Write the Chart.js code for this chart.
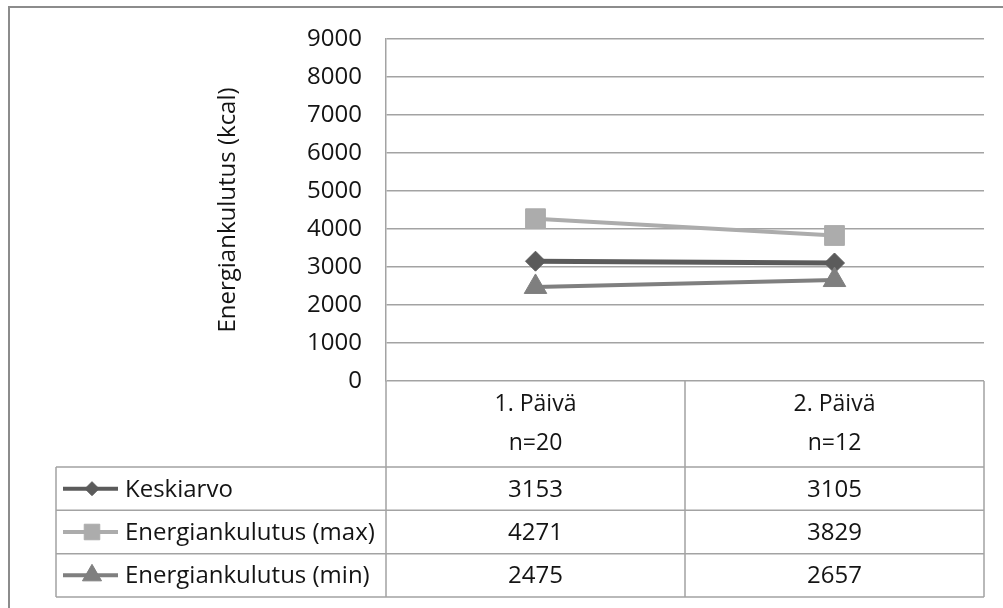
<!DOCTYPE html>
<html>
<head>
<meta charset="utf-8">
<script src="https://cdn.jsdelivr.net/npm/chart.js@4/dist/chart.umd.min.js"></script>
<style>
  html, body { margin: 0; padding: 0; background: #fff; }
  #wrap { width: 1003px; height: 608px; }
</style>
</head>
<body>
<div id="wrap"><canvas id="c" width="1003" height="608"></canvas></div>
<script>
// Energy expenditure per day (kcal)
const days = ['1. Päivä', '2. Päivä'];
const sampleSizes = ['n=20', 'n=12'];
const seriesNames = ['Keskiarvo', 'Energiankulutus (max)', 'Energiankulutus (min)'];
const meanValues = [3153, 3105];
const maxValues = [4271, 3829];
const minValues = [2475, 2657];
const yTicks = [0, 1000, 2000, 3000, 4000, 5000, 6000, 7000, 8000, 9000];

const FONT = "'Open Sans', 'DejaVu Sans', sans-serif";
const TEXT = '#141414';
const RULE = '#a3a3a3';

const styles = [
  { color: '#5b5b5b', point: 'rectRot', radius: 10, width: 5, keyRadius: 7, order: 3 },
  { color: '#acacac', point: 'rect', radius: 14, width: 4, keyRadius: 11, order: 2 },
  { color: '#7f7f7f', point: 'triangle', radius: 13, width: 4, keyRadius: 11, order: 1 }
];
const seriesValues = [meanValues, maxValues, minValues];

const datasets = seriesNames.map((name, i) => ({
  label: name,
  data: seriesValues[i],
  borderColor: styles[i].color,
  backgroundColor: styles[i].color,
  borderWidth: styles[i].width,
  pointStyle: styles[i].point,
  pointRadius: styles[i].radius,
  pointBorderWidth: 1,
  pointBackgroundColor: styles[i].color,
  pointBorderColor: styles[i].color,
  tension: 0,
  order: styles[i].order
}));

// Frame around the whole chart plus the data table beneath the plot
const tablePlugin = {
  id: 'dataTable',
  beforeDraw(chart) {
    const ctx = chart.ctx;
    ctx.save();
    ctx.fillStyle = '#fff';
    ctx.fillRect(0, 0, chart.width, chart.height);
    ctx.strokeStyle = '#8c8c8c';
    ctx.lineWidth = 2;
    ctx.strokeRect(9, 7, chart.width + 40, chart.height + 40);
    ctx.restore();
  },
  afterDraw(chart) {
    const ctx = chart.ctx;
    const xs = chart.scales.x;
    const area = chart.chartArea;
    const headTop = area.bottom;
    const headBottom = xs.bottom;
    const tableLeft = 56;
    const tableBottom = 597;
    const rowH = (tableBottom - headBottom) / seriesNames.length;
    const colCenters = days.map((_, i) => xs.getPixelForValue(i));
    const divider = (colCenters[0] + colCenters[1]) / 2;

    ctx.save();
    ctx.strokeStyle = RULE;
    ctx.lineWidth = 1.5;
    ctx.beginPath();
    // vertical rules
    [area.left, divider, area.right].forEach(x => {
      ctx.moveTo(x, headTop);
      ctx.lineTo(x, tableBottom);
    });
    ctx.moveTo(tableLeft, headBottom);
    ctx.lineTo(tableLeft, tableBottom);
    // horizontal rules
    for (let r = 0; r <= seriesNames.length; r++) {
      const y = headBottom + r * rowH;
      ctx.moveTo(tableLeft, y);
      ctx.lineTo(area.right, y);
    }
    ctx.stroke();

    ctx.font = '24px ' + FONT;
    ctx.fillStyle = TEXT;
    ctx.textBaseline = 'middle';
    seriesNames.forEach((name, r) => {
      const cy = headBottom + (r + 0.5) * rowH;
      const st = styles[r];
      // legend key
      ctx.strokeStyle = st.color;
      ctx.lineWidth = 4;
      ctx.beginPath();
      ctx.moveTo(63, cy);
      ctx.lineTo(118, cy);
      ctx.stroke();
      ctx.fillStyle = st.color;
      ctx.strokeStyle = st.color;
      ctx.lineWidth = 1;
      if (Chart.helpers && Chart.helpers.drawPoint) {
        Chart.helpers.drawPoint(ctx, { pointStyle: st.point, radius: st.keyRadius, borderWidth: 1, rotation: 0 }, 92, cy);
      }
      // row label
      ctx.fillStyle = TEXT;
      ctx.textAlign = 'left';
      ctx.fillText(name, 125, cy + 1);
      // values
      ctx.textAlign = 'center';
      seriesValues[r].forEach((v, c) => {
        ctx.fillText(String(v), colCenters[c], cy + 1);
      });
    });
    ctx.restore();
  }
};

new Chart(document.getElementById('c'), {
  type: 'line',
  data: {
    labels: days.map((d, i) => [d, sampleSizes[i]]),
    datasets
  },
  options: {
    responsive: false,
    devicePixelRatio: 1,
    animation: false,
    layout: { padding: { left: 200, top: 39, right: 19, bottom: 141 } },
    plugins: {
      legend: { display: false },
      tooltip: { enabled: false }
    },
    scales: {
      x: {
        type: 'category',
        offset: true,
        grid: { display: false, drawTicks: false },
        border: { display: false },
        ticks: {
          color: TEXT,
          font: { family: FONT, size: 23, lineHeight: 1.7 },
          padding: 4,
          maxRotation: 0,
          autoSkip: false
        },
        afterFit(scale) { scale.height = 86; }
      },
      y: {
        min: 0,
        max: 9000,
        afterBuildTicks(scale) { scale.ticks = yTicks.map(v => ({ value: v })); },
        grid: { color: RULE, lineWidth: 1.5, drawTicks: false },
        border: { display: true, color: RULE, width: 1.5 },
        ticks: {
          color: TEXT,
          font: { family: FONT, size: 24 },
          padding: 24,
          callback: v => String(v)
        },
        title: {
          display: true,
          text: 'Energiankulutus (kcal)',
          color: TEXT,
          font: { family: FONT, size: 24 },
          padding: { top: 14, bottom: 0 }
        },
        afterFit(scale) { scale.width = 186; }
      }
    }
  },
  plugins: [tablePlugin]
});
</script>
</body>
</html>
